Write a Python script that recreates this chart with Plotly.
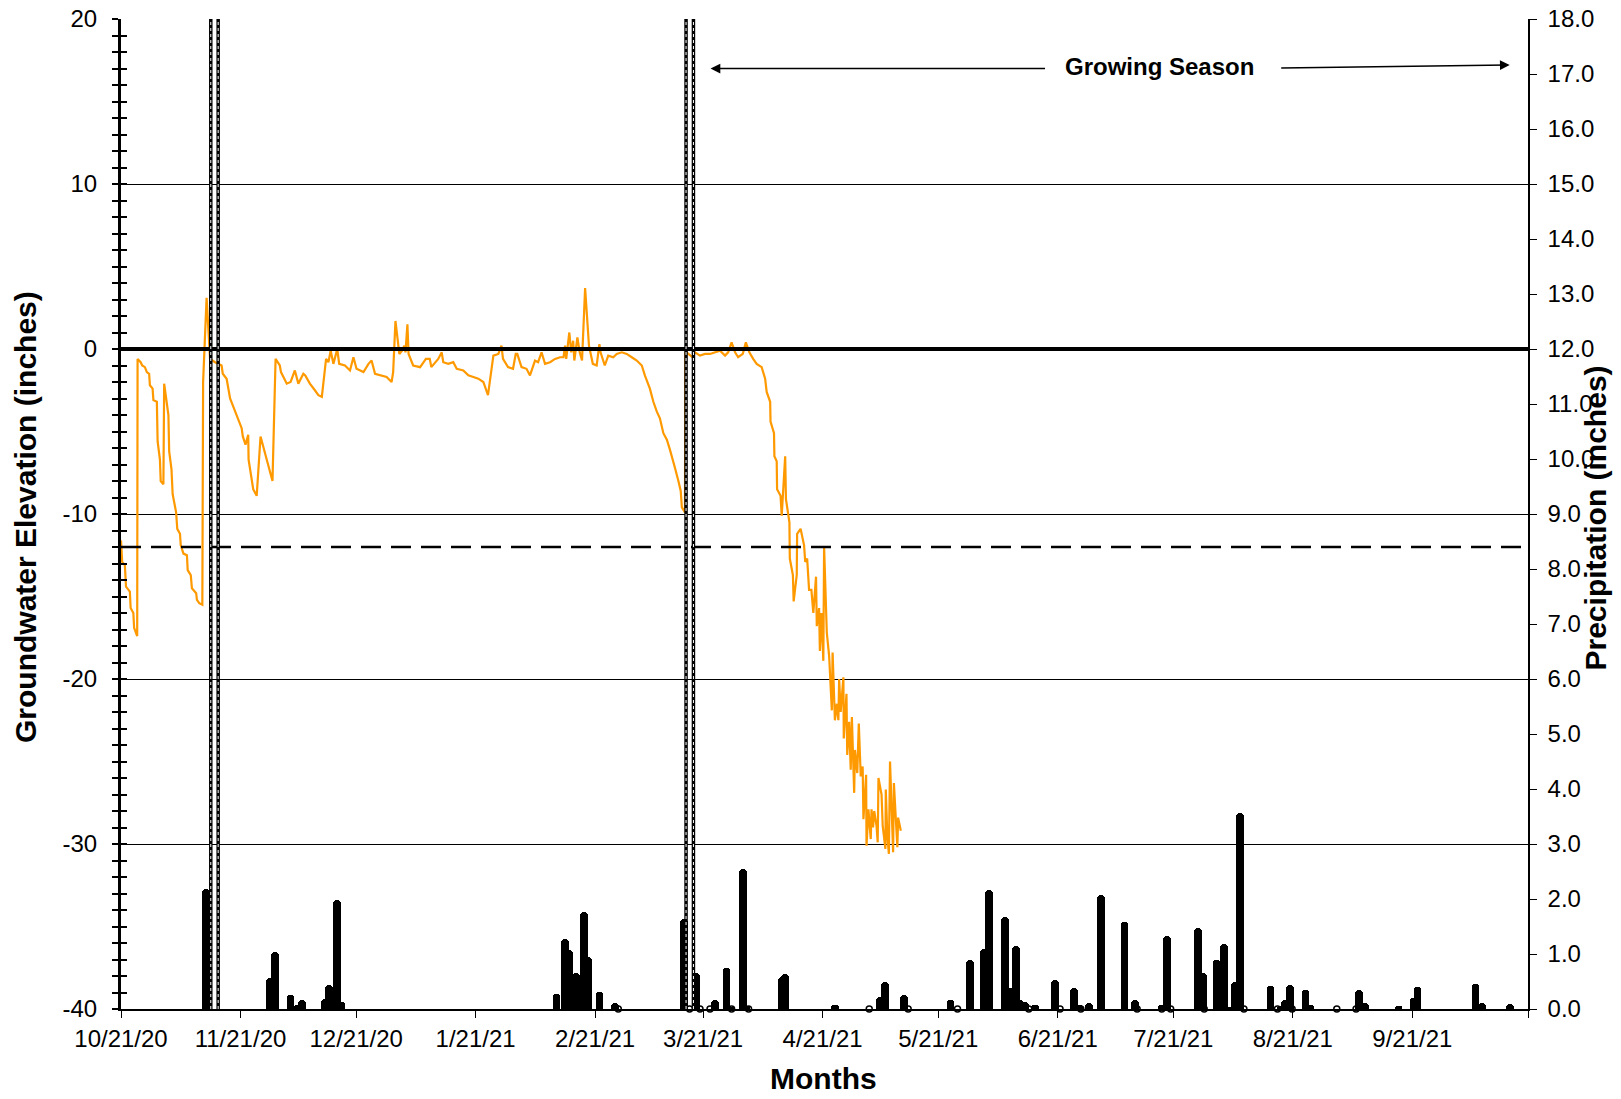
import plotly.graph_objects as go
import pandas as pd

start = pd.Timestamp("2020-10-21")

# Groundwater elevation (inches) - day offset from 10/21/20 and value
gw_day = [0.0, 0.3, 1.0, 1.3, 2.3, 2.5, 3.2, 3.4, 4.2, 4.3, 5.1, 5.5, 6.2, 6.7, 7.3, 7.5, 8.2, 8.4, 9.3, 9.5,
          10.1, 10.3, 11.0, 11.2, 12.3, 12.5, 13.1, 13.4, 14.3, 14.6, 15.3, 15.5, 16.2, 17.1, 17.3, 18.1, 18.4,
          19.5, 19.7, 20.3, 21.1, 21.3, 22.2, 22.8, 23.1, 24.4, 26.1, 26.4, 27.4, 28.3, 30.0, 31.3, 31.6, 32.3,
          33.0, 33.1, 34.3, 35.2, 36.2, 37.4, 38.0, 39.3, 40.1, 41.2, 41.5, 43.0, 44.0, 45.1, 46.0, 47.3, 47.8,
          49.0, 50.3, 51.2, 52.1, 53.2, 53.8, 54.4, 55.1, 56.1, 56.6, 58.1, 59.4, 60.3, 61.1, 62.9, 64.2, 65.0,
          65.9, 67.6, 68.9, 70.2, 70.6, 71.2, 72.2, 72.9, 73.5, 73.8, 74.3, 74.6, 75.8, 77.6, 79.1, 80.1, 80.5,
          82.3, 83.2, 83.6, 84.9, 86.2, 87.1, 88.8, 90.1, 91.4, 92.7, 94.0, 95.2, 96.6, 97.9, 98.7, 99.1, 100.4,
          101.7, 102.4, 102.8, 103.9, 105.2, 106.1, 107.4, 108.2, 109.1, 110.0, 111.3, 112.6, 113.9, 114.8,
          115.2, 115.5, 116.3, 116.8, 117.3, 117.6, 118.4, 119.0, 119.6, 120.4, 121.0, 121.4, 122.4, 123.4,
          124.1, 124.4, 125.5, 126.4, 127.7, 128.6, 129.9, 131.2, 132.5, 133.8, 135.1, 135.9, 137.2, 138.1,
          139.0, 139.8, 140.7, 141.6, 142.4, 143.3, 143.7, 144.6, 145.2, 145.5, 146.3, 146.4, 147.2, 148.3,
          148.9, 150.2, 151.5, 152.8, 154.1, 155.4, 156.7, 157.5, 158.4, 159.3, 160.1, 161.3, 162.1, 163.0,
          164.0, 164.9, 166.2, 167.1, 167.5, 168.4, 168.5, 169.4, 169.5, 170.1, 170.2, 171.1, 171.4, 172.3,
          172.5, 173.4, 173.5, 174.3, 174.5, 175.3, 175.4, 176.3, 177.2, 177.5, 178.0, 178.5, 179.1, 179.6,
          180.3, 180.5, 181.1, 181.3, 181.7, 182.2, 182.4, 183.1, 183.7, 184.4, 184.6, 185.2, 185.7, 186.1,
          186.3, 186.7, 187.4, 187.5, 188.2, 188.4, 188.9, 189.3, 189.6, 190.2, 190.4, 191.0, 191.4, 191.9,
          192.4, 192.6, 193.3, 193.4, 193.9, 194.5, 194.7, 195.1, 195.4, 196.0, 196.3, 196.5, 197.3, 197.6,
          198.3, 198.4, 198.8, 199.2, 199.5, 199.9, 200.3, 200.5, 201.0, 201.4, 201.6, 202.3]
gw_value = [-11.6, -12.9, -13.1, -14.4, -14.7, -15.7, -16.0, -16.9, -17.4, -0.6, -0.8, -1.0, -1.1, -1.4, -1.5,
            -2.2, -2.4, -3.1, -3.2, -5.6, -6.7, -8.0, -8.2, -2.1, -4.0, -6.2, -7.3, -8.8, -9.9, -10.9, -11.2,
            -11.9, -12.4, -12.5, -13.4, -13.7, -14.5, -14.8, -15.2, -15.4, -15.5, -2.0, 3.1, 0.0, -0.6, -0.8,
            -1.0, -1.5, -1.8, -3.0, -4.0, -4.8, -5.3, -5.8, -5.2, -6.7, -8.5, -8.9, -5.3, -6.4, -6.8, -8.0, -0.6,
            -1.0, -1.4, -2.1, -2.0, -1.3, -2.1, -1.5, -1.6, -2.1, -2.5, -2.8, -2.9, -0.6, -0.8, -0.1, -0.9, 0.0,
            -0.9, -1.0, -1.3, -0.5, -1.2, -1.4, -0.9, -0.7, -1.5, -1.6, -1.7, -2.0, -1.4, 1.7, -0.3, -0.1, 0.2,
            -0.2, 1.5, -0.3, -1.0, -1.1, -0.6, -0.6, -1.1, -0.6, -0.2, -0.8, -0.9, -0.8, -1.2, -1.3, -1.6, -1.7,
            -1.8, -2.0, -2.8, -0.4, -0.3, 0.2, -0.6, -1.1, -1.2, -0.3, -0.3, -1.1, -1.2, -1.6, -0.7, -0.8, -0.2,
            -0.9, -0.8, -0.6, -0.5, -0.5, 0.2, -0.6, 1.0, -0.2, 0.5, -0.7, 0.7, -0.2, -0.7, 3.7, 1.8, 0.2, -0.9,
            -1.0, 0.3, -0.2, -1.0, -0.4, -0.5, -0.3, -0.2, -0.3, -0.5, -0.7, -1.0, -1.6, -2.4, -3.2, -3.8, -4.2,
            -5.1, -5.5, -6.1, -6.8, -7.2, -8.0, -8.6, -9.6, -9.9, -0.1, -0.3, -0.5, -0.2, -0.4, -0.3, -0.3, -0.2,
            -0.1, -0.4, -0.2, 0.4, -0.2, -0.5, -0.3, 0.4, -0.2, -0.6, -0.9, -1.1, -1.8, -2.6, -3.2, -4.4, -5.1,
            -6.5, -6.8, -8.5, -8.9, -10.1, -6.5, -9.1, -10.5, -12.7, -13.7, -15.3, -13.7, -11.2, -10.9, -11.9,
            -12.9, -12.7, -14.6, -14.6, -16.0, -13.8, -16.8, -15.7, -18.3, -16.0, -18.9, -12.0, -17.2, -18.6,
            -21.9, -18.4, -22.5, -21.5, -22.5, -20.0, -22.0, -19.9, -23.6, -20.9, -24.6, -22.6, -25.5, -22.3,
            -26.9, -24.3, -25.7, -22.7, -25.9, -25.3, -28.5, -25.8, -30.1, -27.9, -29.7, -27.9, -29.0, -28.0,
            -28.9, -29.9, -26.0, -27.0, -28.9, -30.3, -26.7, -29.5, -30.6, -25.0, -28.1, -30.5, -26.3, -28.5,
            -30.2, -28.4, -29.2]

# Precipitation (inches)
precip_day = [22.0, 22.4, 38.7, 40.0, 44.0, 45.7, 46.9, 52.9, 54.0, 56.0, 57.2, 113.0, 115.2, 116.3, 118.0,
              120.1, 121.2, 124.1, 128.1, 146.1, 149.2, 154.1, 157.1, 158.2, 161.3, 162.3, 171.4, 172.2, 185.2,
              196.9, 198.2, 203.1, 215.2, 220.2, 223.9, 225.2, 229.3, 230.6, 232.2, 233.3, 234.5, 237.1, 242.3,
              247.2, 248.5, 251.2, 254.2, 260.3, 263.1, 270.1, 271.3, 279.3, 280.6, 284.2, 286.2, 287.1, 289.0,
              290.3, 298.2, 300.8, 301.9, 303.2, 307.3, 308.5, 321.2, 322.7, 331.4, 335.3, 336.3, 351.4, 353.0,
              360.3]
precip_in = [2.19, 2.1, 0.56, 1.04, 0.25, 0.08, 0.16, 0.18, 0.44, 1.98, 0.12, 0.28, 1.28, 1.07, 0.65, 1.77,
             0.95, 0.31, 0.11, 1.63, 0.66, 0.16, 0.74, 0.04, 2.54, 0.05, 0.59, 0.63, 0.07, 0.22, 0.50, 0.25,
             0.16, 0.89, 1.10, 2.16, 1.67, 0.38, 1.15, 0.16, 0.13, 0.07, 0.53, 0.38, 0.07, 0.11, 2.07, 1.58,
             0.16, 0.07, 1.33, 1.48, 0.66, 0.89, 1.19, 0.04, 0.50, 3.56, 0.42, 0.05, 0.16, 0.44, 0.35, 0.07,
             0.35, 0.11, 0.05, 0.20, 0.40, 0.45, 0.11, 0.10]
zero_day = [129.0, 147.5, 150.2, 152.8, 158.4, 162.8, 194.1, 204.2, 217.0, 235.5, 243.6, 249.0, 263.6,
            270.0, 272.3, 281.0, 291.3, 300.0, 303.8, 315.4, 320.4]

tick_dates = pd.date_range("2020-10-01", "2021-10-01", freq="MS") + pd.Timedelta(days=20)
tick_text = [f"{d.month}/{d.day}/{d.strftime('%y')}" for d in tick_dates[:-1]] + [""]

left_ticks = [-40, -30, -20, -10, 0, 10, 20]
left_text = [str(v) for v in left_ticks]

marker_lines = ["2020-11-13 07:00", "2020-11-15 05:00", "2021-03-16 14:00", "2021-03-18 12:00"]

to_dates = lambda days: start + pd.to_timedelta(days, unit="D")
FONT = "Liberation Sans, Arial"

fig = go.Figure()
fig.add_trace(go.Scatter(x=to_dates(gw_day), y=gw_value, mode="lines", yaxis="y",
                         line=dict(color="#FF9900", width=2.2), showlegend=False))
fig.add_trace(go.Bar(x=to_dates(precip_day), y=precip_in, yaxis="y2", width=2.0 * 86400000,
                     marker=dict(color="black", line=dict(width=0), cornerradius="50%"), showlegend=False))
fig.add_trace(go.Scatter(x=to_dates(zero_day), y=[0] * len(zero_day), yaxis="y2", mode="markers",
                         marker=dict(symbol="circle-open", size=6, color="black", line=dict(width=1.5)),
                         showlegend=False, cliponaxis=False))
# dummy trace for the inner half of the crossing ticks on the left axis
fig.add_trace(go.Scatter(x=[start], y=[-40], yaxis="y3", mode="markers", marker=dict(opacity=0),
                         showlegend=False, hoverinfo="skip"))

shapes = [
    dict(type="line", xref="paper", x0=0, x1=1, yref="y", y0=0, y1=0, line=dict(color="black", width=4)),
    dict(type="line", xref="paper", x0=0, x1=1, yref="y", y0=-12, y1=-12,
         line=dict(color="black", width=2.5, dash="20px,10px")),
]
for d in marker_lines:
    shapes.append(dict(type="line", xref="x", x0=d, x1=d, yref="paper", y0=0, y1=1,
                       line=dict(color="black", width=3.5)))
    shapes.append(dict(type="line", xref="x", x0=d, x1=d, yref="paper", y0=0, y1=1,
                       line=dict(color="white", width=1, dash="dot")))

annotations = [
    dict(text="<b>Groundwater Elevation (inches)</b>", xref="paper", yref="paper", x=-0.0675, y=0.497,
         xanchor="center", yanchor="middle", textangle=-90, showarrow=False,
         font=dict(size=30, color="black", family=FONT)),
    dict(text="<b>Precipitation (inches)</b>", xref="paper", yref="paper", x=1.048, y=0.496,
         xanchor="center", yanchor="middle", textangle=-90, showarrow=False,
         font=dict(size=30, color="black", family=FONT)),
    dict(text="<b>Months</b>", xref="paper", yref="paper", x=0.499, y=-0.070, xanchor="center",
         yanchor="middle", showarrow=False, font=dict(size=30, color="black", family=FONT)),
    dict(text="", xref="paper", yref="paper", x=0.419, y=0.95, ax=336, ay=0, showarrow=True,
         arrowhead=2, arrowsize=1.3, arrowwidth=1.5, arrowcolor="black"),
    dict(text="", xref="paper", yref="paper", x=0.987, y=0.9535, ax=-230, ay=3, showarrow=True,
         arrowhead=2, arrowsize=1.3, arrowwidth=1.5, arrowcolor="black"),
    dict(text="<b>Growing Season</b>", xref="paper", yref="paper", x=0.738, y=0.952, xanchor="center",
         yanchor="middle", showarrow=False, font=dict(size=24, color="black", family=FONT)),
]

# the page body adds an 8px offset, so the figure is 16px smaller than the window
fig.update_layout(
    width=1605, height=1083,
    margin=dict(l=113, r=85, t=11, b=82, autoexpand=False),
    paper_bgcolor="white", plot_bgcolor="white",
    font=dict(family=FONT, size=24, color="black"),
    bargap=0,
    xaxis=dict(type="date", range=["2020-10-21", "2021-10-21"], tickvals=tick_dates, ticktext=tick_text,
               ticks="outside", ticklen=7, tickcolor="black", showline=True, linecolor="black", linewidth=2,
               showgrid=False, zeroline=False, tickfont=dict(size=24), ticklabeloverflow="allow"),
    yaxis=dict(range=[-40, 20], tickvals=left_ticks, ticktext=left_text, ticks="outside", ticklen=6,
               tickwidth=2, tickcolor="black", ticklabelstandoff=10, ticklabeloverflow="allow",
               showline=True, linecolor="black", linewidth=3, showgrid=True, gridcolor="black", gridwidth=1,
               zeroline=False, tickfont=dict(size=24),
               minor=dict(dtick=1, ticks="outside", ticklen=6, tickwidth=2, tickcolor="black", showgrid=False)),
    yaxis2=dict(range=[0, 18], dtick=1, tickformat=".1f", overlaying="y", side="right", ticks="outside",
                ticklen=7, tickcolor="black", ticklabelstandoff=6, ticklabeloverflow="allow", showline=True,
                linecolor="black", linewidth=1.5, showgrid=False, zeroline=False, tickfont=dict(size=24)),
    yaxis3=dict(range=[-40, 20], dtick=10, overlaying="y", side="left", ticks="inside", ticklen=6,
                tickwidth=2, tickcolor="black", showticklabels=False, showline=False, showgrid=False,
                zeroline=False,
                minor=dict(dtick=1, ticks="inside", ticklen=6, tickwidth=2, tickcolor="black", showgrid=False)),
    shapes=shapes,
    annotations=annotations,
)

fig.write_html("out.html")
